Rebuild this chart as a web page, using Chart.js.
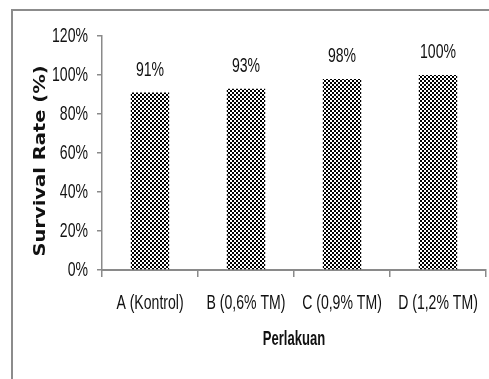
<!DOCTYPE html>
<html>
<head>
<meta charset="utf-8">
<script src="https://cdn.jsdelivr.net/npm/chart.js@4"></script>
<style>
  html, body { margin: 0; padding: 0; background: #fff; }
  #wrap { position: relative; width: 489px; height: 379px; overflow: hidden; }
  #frame { position: absolute; left: 11px; top: 9px; width: 600px; height: 500px;
           border-left: 2px solid #8c8c8c; border-top: 2px solid #8c8c8c; box-sizing: border-box; }
  #c { position: absolute; left: 0; top: 0; }
</style>
</head>
<body>
<div id="wrap">
  <div id="frame"></div>
  <canvas id="c" width="489" height="379"></canvas>
</div>
<script>
// Survival rate per treatment
const categories = ['A (Kontrol)', 'B (0,6% TM)', 'C (0,9% TM)', 'D (1,2% TM)'];
const survivalRate = [91, 93, 98, 100];
const yTickValues = [0, 20, 40, 60, 80, 100, 120];
const xTitle = 'Perlakuan';
const yTitle = 'Survival Rate (%)';

const SX = 0.67;                       // horizontal squeeze for condensed lettering
const sans = "'Liberation Sans', Arial, sans-serif";
const textColor = '#111111';
const axisColor = '#8a8a8a';

const canvas = document.getElementById('c');
const ctx2d = canvas.getContext('2d');

// all chart text is drawn narrowed around its anchor point
const plainFillText = ctx2d.fillText.bind(ctx2d);
ctx2d.fillText = function (text, x, y, maxWidth) {
  this.save();
  this.translate(x, y);
  this.scale(SX, 1);
  if (maxWidth !== undefined) plainFillText(text, 0, 0, maxWidth / SX);
  else plainFillText(text, 0, 0);
  this.restore();
};

// small black/white checkerboard fill for the bars
function checkerPattern(ctx) {
  const p = document.createElement('canvas');
  p.width = 4; p.height = 4;
  const g = p.getContext('2d');
  g.fillStyle = '#ffffff';
  g.fillRect(0, 0, 4, 4);
  g.fillStyle = '#000000';
  g.fillRect(0, 0, 2, 2);
  g.fillRect(2, 2, 2, 2);
  return ctx.createPattern(p, 'repeat');
}

// value labels above each bar
const valueLabels = {
  id: 'valueLabels',
  afterDatasetsDraw(chart) {
    const ctx = chart.ctx;
    const meta = chart.getDatasetMeta(0);
    ctx.save();
    ctx.font = '21px ' + sans;
    ctx.fillStyle = textColor;
    ctx.textAlign = 'center';
    ctx.textBaseline = 'alphabetic';
    meta.data.forEach((bar, i) => {
      ctx.fillText(survivalRate[i] + '%', bar.x, bar.y - 17);
    });
    ctx.restore();
  }
};

// rotated y-axis title, sitting a little below the plot's middle
const yAxisTitle = {
  id: 'yAxisTitle',
  afterDraw(chart) {
    const ctx = chart.ctx;
    const area = chart.chartArea;
    ctx.save();
    ctx.translate(chart.scales.y.left + 40.5, (area.top + area.bottom) / 2 + 8);
    ctx.rotate(-Math.PI / 2);
    ctx.scale(1, 0.84);
    ctx.font = "bold 19.5px 'DejaVu Sans', sans-serif";
    ctx.fillStyle = textColor;
    ctx.textAlign = 'center';
    ctx.textBaseline = 'middle';
    plainFillText(yTitle, 0, 0);
    ctx.restore();
  }
};

new Chart(canvas, {
  type: 'bar',
  data: {
    labels: categories,
    datasets: [{
      data: survivalRate,
      backgroundColor: checkerPattern(ctx2d),
      borderWidth: 0,
      categoryPercentage: 1,
      barPercentage: 0.4
    }]
  },
  options: {
    responsive: false,
    animation: false,
    devicePixelRatio: 1,
    layout: { padding: { left: 0, top: 36, right: 3, bottom: 0 } },
    plugins: { legend: { display: false }, tooltip: { enabled: false } },
    scales: {
      x: {
        afterFit(s) { s.height = 109; s.paddingLeft = 0; s.paddingRight = 0; },
        grid: { drawOnChartArea: false, drawTicks: true, tickLength: 7, color: axisColor, lineWidth: 1.5, offset: true },
        border: { display: true, color: axisColor, width: 2 },
        ticks: { color: textColor, padding: 13.5, autoSkip: false, maxRotation: 0,
                 font: { family: sans, size: 21 } },
        title: { display: true, text: xTitle, color: textColor,
                 font: { family: sans, size: 19.5, weight: 'bold' }, padding: { top: 0, bottom: 27.3 } }
      },
      y: {
        min: 0, max: 120,
        afterFit(s) { s.width = 102; s.paddingTop = 0; s.paddingBottom = 0; },
        afterBuildTicks(s) { s.ticks = yTickValues.map(v => ({ value: v })); },
        grid: { drawOnChartArea: false, drawTicks: true, tickLength: 5, color: axisColor, lineWidth: 1.5 },
        border: { display: true, color: axisColor, width: 1.5 },
        ticks: { color: textColor, padding: 9, font: { family: sans, size: 21 },
                 callback: v => v + '%' },
        title: { display: false }
      }
    }
  },
  plugins: [valueLabels, yAxisTitle]
});
</script>
</body>
</html>
